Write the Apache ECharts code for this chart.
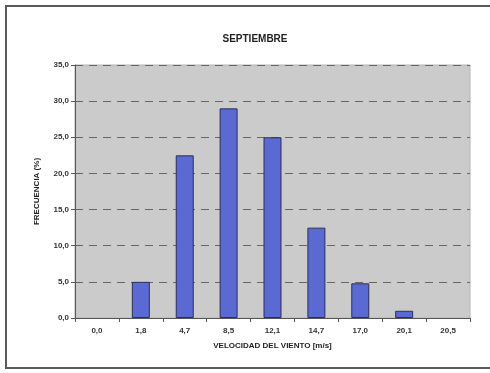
<!DOCTYPE html>
<html>
<head>
<meta charset="utf-8">
<script src="https://cdn.jsdelivr.net/npm/echarts@6/dist/echarts.min.js"></script>
<style>
  html, body { margin: 0; padding: 0; background: #ffffff; }
  #frame { position: absolute; left: 5px; top: 5px; width: 490px; height: 364px; border: 2px solid #5a5a5a; border-right: none; box-sizing: border-box; }
  #chart { position: absolute; left: 0; top: 0; width: 490px; height: 373px; }
</style>
</head>
<body>
<div id="frame"></div>
<div id="chart"></div>
<script>
// Wind speed classes (m/s) and frequency (%) for September
const speedClasses = ['0,0', '1,8', '4,7', '8,5', '12,1', '14,7', '17,0', '20,1', '20,5'];
const frequency = [0, 5.0, 22.5, 29.0, 25.0, 12.5, 4.8, 1.0, 0];
const yTicks = { min: 0, max: 35, interval: 5 };

const fmt = v => v.toFixed(1).replace('.', ',');

// empty classes get no outline so nothing is drawn on the baseline
const barData = frequency.map(v => v === 0 ? { value: v, itemStyle: { borderWidth: 0, opacity: 0 } } : v);

const chart = echarts.init(document.getElementById('chart'), null, { renderer: 'canvas' });
chart.setOption({
  animation: false,
  title: {
    text: 'SEPTIEMBRE',
    left: 250, top: 29, textAlign: 'center',
    textStyle: { fontFamily: 'Liberation Sans', fontSize: 10, fontWeight: 'bold', color: '#222' }
  },
  grid: { left: 75, right: 20, top: 65, bottom: 55, show: true, backgroundColor: '#cbcbcb', borderColor: '#b4b4b4', borderWidth: 1 },
  xAxis: {
    type: 'category',
    data: speedClasses,
    name: 'VELOCIDAD DEL VIENTO [m/s]',
    nameLocation: 'middle',
    nameGap: 24,
    nameTextStyle: { fontFamily: 'Liberation Sans', fontSize: 8, fontWeight: 'bold', color: '#222' },
    axisLine: { lineStyle: { color: '#555', width: 1 } },
    axisTick: { show: true, alignWithLabel: false, length: 4, lineStyle: { color: '#555' } },
    axisLabel: { fontFamily: 'Liberation Sans', fontSize: 8, fontWeight: 'bold', color: '#333', margin: 9 }
  },
  yAxis: {
    type: 'value',
    min: yTicks.min, max: yTicks.max, interval: yTicks.interval,
    name: 'FRECUENCIA (%)',
    nameLocation: 'middle',
    nameGap: 34,
    nameRotate: 90,
    nameTextStyle: { fontFamily: 'Liberation Sans', fontSize: 8, fontWeight: 'bold', color: '#222' },
    axisLine: { show: true, lineStyle: { color: '#555', width: 1 } },
    axisTick: { show: true, length: 4, lineStyle: { color: '#555' } },
    axisLabel: { fontFamily: 'Liberation Sans', fontSize: 8, fontWeight: 'bold', color: '#333', margin: 6, formatter: fmt },
    splitLine: { show: true, lineStyle: { color: '#666', type: [8, 6], width: 1 } }
  },
  series: [{
    type: 'bar',
    data: barData,
    barWidth: '41%',
    itemStyle: { color: '#5a6ad2', borderColor: '#2a2f5a', borderWidth: 1 }
  }]
});
</script>
</body>
</html>
